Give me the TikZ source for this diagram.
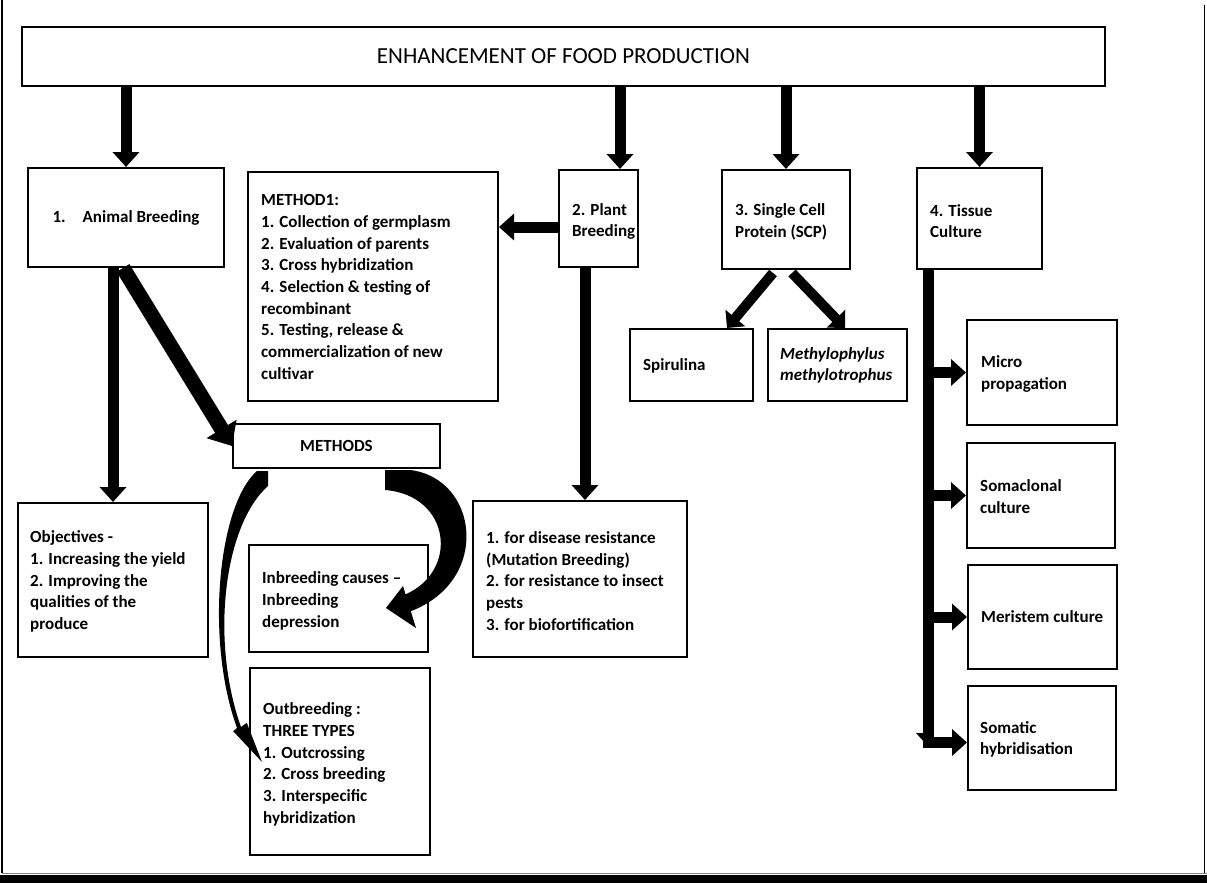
\documentclass[tikz,border=0pt]{standalone}
\usepackage{fontspec}
\setmainfont{Carlito}
\usetikzlibrary{arrows.meta}
\begin{document}
\begin{tikzpicture}[x=1pt,y=-1pt,
  box/.style={draw=black,line width=2pt,fill=white,inner sep=0pt},
  txt/.style={font=\bfseries\fontsize{17}{21.7}\selectfont,align=left,inner sep=0pt,anchor=west,text=black},
  txti/.style={font=\bfseries\itshape\fontsize{17}{21.7}\selectfont,align=left,inner sep=0pt,anchor=west,text=black},
  bigarrow/.style={line width=11pt,-{Triangle[length=15pt,width=26pt]}},
  diagarrow/.style={line width=15pt,-{Triangle[length=20pt,width=34pt]}},
  midarrow/.style={line width=10pt,-{Triangle[length=13pt,width=25pt]}}]
\useasboundingbox (0,0) rectangle (1207,883);
\fill[white] (0,0) rectangle (1207,883);
% page frame
\draw[line width=1.2pt] (2,0) -- (2,873);
\draw[line width=1.2pt] (1204.5,5) -- (1204.5,873);
\draw[gray,line width=1pt] (2,873.5) -- (1207,873.5);
\fill[black] (0,875) rectangle (1207,883);

% boxes
\node[box,minimum width=1083,minimum height=59,font=\fontsize{23}{27}\selectfont] (title) at (563.5,56.5) {ENHANCEMENT OF FOOD PRODUCTION};
\node[box,minimum width=196,minimum height=99,font=\bfseries\fontsize{17}{21.7}\selectfont] (animal) at (126,217.5) {1.\hspace{17pt}Animal Breeding};
\node[box,minimum width=250,minimum height=229] (method1) at (373,286.5) {};
\node[box,minimum width=79,minimum height=97] (plant) at (598.5,218.5) {};
\node[box,minimum width=128,minimum height=99] (scp) at (786,219.5) {};
\node[box,minimum width=125,minimum height=101] (tissue) at (979.5,218.5) {};
\node[box,minimum width=123,minimum height=72] (spir) at (691.5,365) {};
\node[box,minimum width=139,minimum height=72] (methylo) at (837.5,365) {};
\node[box,minimum width=207,minimum height=44,font=\bfseries\fontsize{17}{21.7}\selectfont] (methods) at (336.5,446) {METHODS};
\node[box,minimum width=190,minimum height=154] (obj) at (113,580) {};
\node[box,minimum width=179,minimum height=107] (inbr) at (338.5,598.5) {};
\node[box,minimum width=180,minimum height=187] (outbr) at (340,761.5) {};
\node[box,minimum width=214,minimum height=156] (outc) at (580,579) {};
\node[box,minimum width=150,minimum height=105] (micro) at (1042,372.5) {};
\node[box,minimum width=148,minimum height=105] (somac) at (1041,495.5) {};
\node[box,minimum width=149,minimum height=104] (meri) at (1042.5,617) {};
\node[box,minimum width=148,minimum height=104] (somat) at (1042,738) {};

% texts
\node[txt] (m1t) at (261,287) {METHOD1:\\1. Collection of germplasm\\2. Evaluation of parents\\3. Cross hybridization\\4. Selection \& testing of\\recombinant\\5. Testing, release \&\\commercialization of new\\cultivar};
\node[txt] (plantt) at (572,221.5) {2. Plant\\Breeding};
\node[txt] (scpt) at (735,222) {3. Single Cell\\Protein (SCP)};
\node[txt] (tissuet) at (930,221) {4. Tissue\\Culture};
\node[txt] (spirt) at (643,366) {Spirulina};
\node[txti] (methylot) at (780,365.5) {Methylophylus\\methylotrophus};
\node[txt] (objt) at (30,581.5) {Objectives -\\1. Increasing the yield\\2. Improving the\\qualities of the\\produce};
\node[txt] (inbrt) at (262,601) {Inbreeding causes --\\Inbreeding\\depression};
\node[txt] (outbrt) at (263,764.5) {Outbreeding :\\THREE TYPES\\1. Outcrossing\\2. Cross breeding\\3. Interspecific\\hybridization};
\node[txt] (outct) at (486,581) {1. for disease resistance\\(Mutation Breeding)\\2. for resistance to insect\\pests\\3. for biofortification};
\node[txt] (microt) at (981,374) {Micro\\propagation};
\node[txt] (somact) at (980,496.5) {Somaclonal\\culture};
\node[txt] (merit) at (981,617) {Meristem culture};
\node[txt] (somatt) at (980,739.5) {Somatic\\hybridisation};

% arrows from title
\coordinate (pin) at ([xshift=21.5pt]plant.north);
\draw[bigarrow] (title.south -| animal.north) -- (animal.north);
\draw[bigarrow] (title.south -| pin) -- (pin);
\draw[bigarrow] (title.south -| scp.north) -- (scp.north);
\draw[bigarrow] (title.south -| tissue.north) -- (tissue.north);

% animal breeding
\draw[bigarrow] (animal.south -| obj.north) -- (obj.north);
\draw[diagarrow] ([xshift=-3pt]animal.south) -- (methods.west);

% plant breeding
\coordinate (pw) at ([yshift=-8.5pt]plant.west);
\draw[bigarrow] (pw) -- (pw -| method1.east);
\coordinate (pd) at ([xshift=-13.5pt]plant.south);
\draw[bigarrow] (pd) -- (pd |- outc.north);

% SCP
\draw[midarrow] ([xshift=-13pt,yshift=-3pt]scp.south) -- ([xshift=35.5pt]spir.north);
\draw[midarrow] ([xshift=6pt,yshift=-3pt]scp.south) -- ([xshift=7.5pt]methylo.north);

% tissue culture
\coordinate (tb) at ([xshift=-51.5pt]tissue.south);
\coordinate (tbot) at (928,748);
\draw[line width=11pt] (tb) -- (tbot);
\fill[black] (916,733) -- (928,733) -- (930,748.5) -- cycle;
\draw[bigarrow] (tb |- micro.west) -- (micro.west);
\draw[bigarrow] (tb |- somac.west) -- (somac.west);
\draw[bigarrow] (tb |- meri.west) -- (meri.west);
\coordinate (sw) at ([yshift=-4.5pt]somat.west);
\draw[bigarrow] ([xshift=-5.5pt]sw -| tb) -- (sw);

% curved arrows from METHODS
\fill[black] (385,470) -- (410,470)
  .. controls (478,478) and (492,580) .. (410.8,611.2)
  -- (416,628) -- (386,608) -- (403,586) -- (405.6,594.4)
  .. controls (460,570) and (450,495) .. (385,490) -- cycle;
\fill[black] (257,471) -- (268,471) -- (268,486)
  .. controls (224,525) and (210,640) .. (241,727)
  -- (246.8,722.8) -- (262,762) -- (233.2,731.2) -- (237,728)
  .. controls (205,640) and (218,505) .. (257,471) -- cycle;
\end{tikzpicture}
\end{document}
